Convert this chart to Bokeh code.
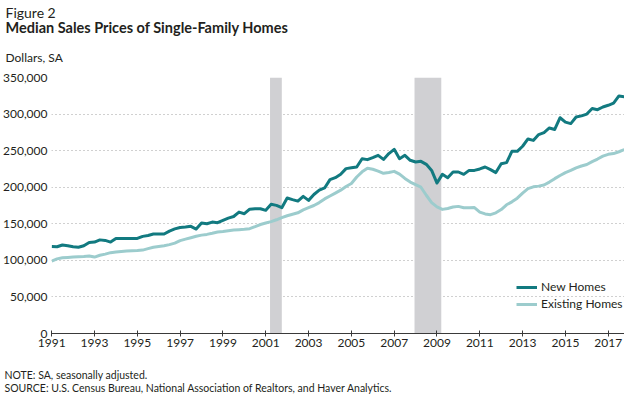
from bokeh.plotting import figure
from bokeh.models import (Legend, LegendItem, FixedTicker, NumeralTickFormatter,
                          ColumnDataSource, Range1d, Title)
from bokeh.embed import file_html
from bokeh.resources import INLINE

# ---------------- data (quarterly, 1991Q1 - 2017Q4, thousands of dollars) ----------------
start_year = 1991
new_homes = [
    119, 118.6, 121, 120,        # 1991
    118.7, 118, 120, 124.5,      # 1992
    125, 128, 127.3, 125,        # 1993
    130, 130, 130, 130,          # 1994
    130, 132.8, 134, 136,        # 1995
    136, 136, 140, 143,          # 1996
    145, 145.5, 146.5, 142.8,    # 1997
    151, 150, 152.3, 151.5,      # 1998
    154.7, 157.8, 160, 166,      # 1999
    163.8, 170, 170.6, 170.5,    # 2000
    168.4, 176.6, 175.2, 172,    # 2001
    185.2, 183, 181, 187.5,      # 2002
    182, 190, 196, 199,          # 2003
    210.3, 213, 217.6, 225.4,    # 2004
    226.5, 227.6, 239, 237.7,    # 2005
    240.5, 243.6, 238, 246,      # 2006
    251.8, 239, 243.6, 236.8,    # 2007
    234.5, 235.4, 231.3, 223,    # 2008
    205.7, 217.6, 213, 220.8,    # 2009
    220.8, 217.6, 223, 223,      # 2010
    225, 227.6, 224, 220,        # 2011
    232, 233.6, 249, 249,        # 2012
    256, 266, 264, 272,          # 2013
    274.7, 281, 279, 295,        # 2014
    289, 287, 296, 297.5,        # 2015
    300, 307.6, 306, 309.7,      # 2016
    312, 315, 324.8, 323.5,      # 2017
]
existing_homes = [
    99, 102, 103.6, 104,         # 1991
    104.5, 105, 105.4, 106,      # 1992
    104.5, 107, 108.5, 110.5,    # 1993
    111.3, 112, 112.7, 113,      # 1994
    113.4, 114, 116, 118,        # 1995
    119, 120, 121.5, 123.6,      # 1996
    127, 129, 131, 133,          # 1997
    134.5, 135.5, 137, 138.7,    # 1998
    139.5, 140.5, 141.5, 142,    # 1999
    142.5, 143.3, 146, 149,      # 2000
    151, 153, 155.5, 158.5,      # 2001
    161, 163, 165, 169,          # 2002
    172, 175, 179, 184,          # 2003
    188, 192, 196, 201,          # 2004
    205, 214, 221, 226,          # 2005
    224.5, 222, 219, 220,        # 2006
    221.7, 218, 212, 207,        # 2007
    203.5, 200, 189, 179,        # 2008
    173, 169.7, 171, 172.9,      # 2009
    173.8, 172, 172, 172.1,      # 2010
    166, 163.5, 162.5, 165,      # 2011
    169.5, 176, 180, 185,        # 2012
    192, 198, 200.5, 201.5,      # 2013
    203, 207, 211.7, 216,        # 2014
    220, 223, 226.5, 229,        # 2015
    231, 235, 238.5, 242.5,      # 2016
    245, 246, 248.5, 251.5,      # 2017
]
quarters = [start_year + i / 4 for i in range(len(new_homes))]

recession_start = [2001.2, 2007.95]
recession_end = [2001.75, 2009.2]

x_ticks = list(range(1991, 2018, 2))
y_ticks = [0, 50000, 100000, 150000, 200000, 250000, 300000, 350000]

series_names = ["New Homes", "Existing Homes"]
series_colors = ["#127a80", "#9ccccd"]

FONT = "Lato"
TXT = "#231f20"

src = ColumnDataSource(dict(
    x=quarters,
    new=[v * 1000 for v in new_homes],
    existing=[v * 1000 for v in existing_homes],
))

p = figure(width=624, height=394, output_backend="svg", toolbar_location=None,
           x_range=Range1d(1990.99, 2017.76), y_range=Range1d(0, 350000),
           min_border_left=41, min_border_right=0, min_border_top=77,
           min_border_bottom=61)
p.outline_line_color = None
p.background_fill_color = "white"
p.border_fill_color = "white"

# recession shading
p.quad(left=recession_start, right=recession_end, bottom=0, top=350000,
       fill_color="#d0d0d3", line_color=None)

r_ex = p.line("x", "existing", source=src, line_color=series_colors[1], line_width=3,
              line_join="round")
r_new = p.line("x", "new", source=src, line_color=series_colors[0], line_width=3,
               line_join="round")

# axes
p.xaxis.ticker = FixedTicker(ticks=x_ticks)
p.xaxis.axis_line_color = "#3a3a3a"
p.xaxis.axis_line_width = 1
p.xaxis.major_tick_line_color = "#3a3a3a"
p.xaxis.major_tick_in = 3
p.xaxis.major_tick_out = 3
p.xaxis.minor_tick_line_color = None
p.xaxis.major_label_standoff = 2
p.xaxis.major_label_text_font = FONT
p.xaxis.major_label_text_font_size = "12px"
p.xaxis.major_label_text_color = TXT
# invisible axis label used only as vertical spacing for the notes below
p.xaxis.axis_label = " "
p.xaxis.axis_label_text_font_size = "10px"
p.xaxis.axis_label_standoff = 3

p.yaxis.ticker = FixedTicker(ticks=y_ticks)
p.yaxis.formatter = NumeralTickFormatter(format="0,0")
p.yaxis.axis_line_color = None
p.yaxis.major_tick_line_color = None
p.yaxis.minor_tick_line_color = None
p.yaxis.major_tick_in = 0
p.yaxis.major_tick_out = 0
p.yaxis.major_label_standoff = 4
p.yaxis.major_label_text_font = FONT
p.yaxis.major_label_text_font_size = "12px"
p.yaxis.major_label_text_color = TXT

p.xgrid.grid_line_color = None
p.ygrid.grid_line_color = "#a0a0a0"
p.ygrid.grid_line_dash = "1 3"
p.ygrid.grid_line_width = 1

# legend
legend = Legend(items=[LegendItem(label=series_names[0], renderers=[r_new]),
                       LegendItem(label=series_names[1], renderers=[r_ex])],
                location=(465, 22), orientation="vertical",
                background_fill_alpha=0, border_line_color=None,
                padding=0, margin=0, spacing=2,
                glyph_width=21, glyph_height=14, label_height=14,
                label_standoff=4, label_text_font=FONT,
                label_text_font_size="12px", label_text_color=TXT)
p.add_layout(legend, "center")

# titles (first added = closest to the frame)
def mk_title(txt, size, style="normal", standoff=0.0, offset=-46):
    return Title(text=txt, align="left", offset=offset, standoff=standoff,
                 text_font=FONT, text_font_size=size, text_font_style=style,
                 text_color=TXT)

p.add_layout(mk_title("Dollars, SA", "12px", standoff=24.6), "above")
p.add_layout(mk_title("Median Sales Prices of Single-Family Homes", "14.5px", "bold",
                      standoff=-1.0), "above")
p.add_layout(mk_title("Figure 2", "14px", standoff=-7.0), "above")

p.add_layout(mk_title("NOTE: SA, seasonally adjusted.", "10.5px", standoff=0.0,
                      offset=-47), "below")
p.add_layout(mk_title("SOURCE: U.S. Census Bureau, National Association of Realtors, "
                      "and Haver Analytics.", "10.5px", standoff=-1.0, offset=-47), "below")

open("out.html", "w").write(file_html(p, INLINE))
